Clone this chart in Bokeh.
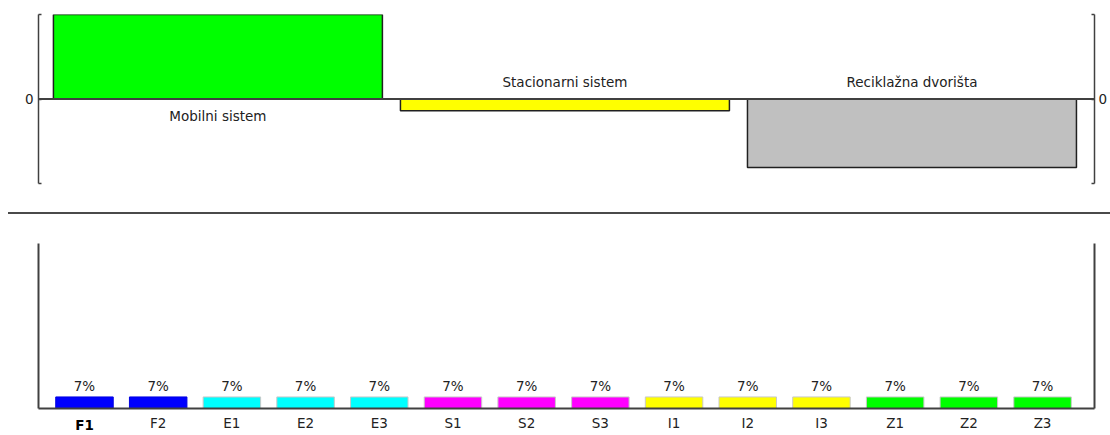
from bokeh.plotting import figure
from bokeh.models import Range1d, FixedTicker, LinearAxis, Span, ColumnDataSource, Div
from bokeh.layouts import column
from bokeh.embed import file_html
from bokeh.resources import INLINE
from bokeh.core.properties import value

# ---- data: top chart (net flows of alternatives) ----
alt_names = ["Mobilni sistem", "Stacionarni sistem", "Reciklažna dvorišta"]
alt_phi = [1.0, -0.14, -0.81]
alt_colors = ["#00FF00", "#FFFF00", "#C0C0C0"]

# ---- data: bottom chart (criteria weights) ----
crit_names = ["F1", "F2", "E1", "E2", "E3", "S1", "S2", "S3",
              "I1", "I2", "I3", "Z1", "Z2", "Z3"]
crit_weights = [0.07, 0.07, 0.07, 0.07, 0.07, 0.07, 0.07,
                0.07, 0.07, 0.07, 0.07, 0.07, 0.07, 0.07]
crit_labels = ["7%", "7%", "7%", "7%", "7%", "7%", "7%",
               "7%", "7%", "7%", "7%", "7%", "7%", "7%"]
crit_colors = ["#0000FF", "#0000FF", "#00FFFF", "#00FFFF", "#00FFFF",
               "#FF00FF", "#FF00FF", "#FF00FF", "#FFFF00", "#FFFF00",
               "#FFFF00", "#00FF00", "#00FF00", "#00FF00"]
crit_border = ["#0000E0", "#0000E0", "#C8C8C8", "#C8C8C8", "#C8C8C8",
               "#C8C8C8", "#C8C8C8", "#C8C8C8", "#C8C8C8", "#C8C8C8",
               "#C8C8C8", "#C8C8C8", "#C8C8C8", "#C8C8C8"]

FONT = "DejaVu Sans"
FSIZE = "13.5px"
TXT = "#222222"
AX = "#404040"
W = 1110

# ================= top chart =================
p1 = figure(width=W, height=209, x_range=Range1d(-0.517, 2.526),
            y_range=Range1d(-1.0, 1.0), toolbar_location=None,
            output_backend="svg", x_axis_location=None, y_axis_location="left",
            min_border_left=38, min_border_right=16, min_border_top=14,
            min_border_bottom=26)
p1.grid.visible = False
p1.outline_line_color = None

def style_axis(ax, standoff):
    ax.ticker = FixedTicker(ticks=[-1.0, 0.0, 1.0])
    ax.major_label_overrides = {-1.0: "", 1.0: "", 0.0: "0"}
    ax.major_tick_in = 3
    ax.major_tick_out = 0
    ax.minor_tick_line_color = None
    ax.major_tick_line_color = AX
    ax.major_tick_line_width = 1.5
    ax.axis_line_color = AX
    ax.axis_line_width = 1.5
    ax.major_label_text_font = FONT
    ax.major_label_text_font_size = FSIZE
    ax.major_label_text_color = TXT
    ax.major_label_standoff = standoff

style_axis(p1.yaxis[0], 5)
rax = LinearAxis()
style_axis(rax, 4)
p1.add_layout(rax, "right")

src1 = ColumnDataSource(dict(
    x=list(range(len(alt_names))), top=alt_phi, color=alt_colors,
    name=alt_names, off=[17 if v >= 0 else -17 for v in alt_phi],
    zero=[0.0] * len(alt_names)))
p1.vbar(x="x", top="top", bottom=0, width=0.948, fill_color="color",
        line_color="#202020", line_width=1.5, source=src1)
p1.add_layout(Span(location=0, dimension="width", line_color=AX, line_width=2))
p1.text(x="x", y="zero", text="name", y_offset="off", source=src1,
        text_align="center", text_baseline="middle",
        text_font=value(FONT), text_font_size=FSIZE, text_color=TXT)

# ================= separator =================
sep = Div(text="", width=W - 8, height=2, margin=(3, 0, 3, 8),
          styles={"background-color": "#4a4a4a"})

# ================= bottom chart =================
p3 = figure(width=W, height=218, x_range=Range1d(-0.624, 13.705),
            y_range=Range1d(0, 1.0), toolbar_location=None,
            output_backend="svg", min_border_left=38, min_border_right=15,
            min_border_top=26, min_border_bottom=26)
p3.grid.visible = False
p3.outline_line_color = None

xa = p3.xaxis[0]
xa.ticker = FixedTicker(ticks=list(range(len(crit_names))))
xa.major_label_overrides = {i: ("" if i == 0 else n) for i, n in enumerate(crit_names)}
xa.major_tick_in = 0
xa.major_tick_out = 0
xa.minor_tick_line_color = None
xa.axis_line_color = AX
xa.axis_line_width = 2
xa.major_label_text_font = FONT
xa.major_label_text_font_size = FSIZE
xa.major_label_text_color = TXT
xa.major_label_standoff = 6

# second axis only carrying the bold label of the selected criterion
xb = LinearAxis(ticker=FixedTicker(ticks=[0]),
                major_label_overrides={0: crit_names[0]},
                axis_line_color=None, major_tick_line_color=None,
                minor_tick_line_color=None, major_tick_in=0, major_tick_out=0,
                major_label_text_font=FONT, major_label_text_font_size=FSIZE,
                major_label_text_font_style="bold",
                major_label_text_color="#000000", major_label_standoff=-17)
p3.add_layout(xb, "below")

ya = p3.yaxis[0]
ya.ticker = FixedTicker(ticks=[])
ya.minor_tick_line_color = None
ya.major_tick_line_color = None
ya.axis_line_color = AX
ya.axis_line_width = 2
ry = LinearAxis(ticker=FixedTicker(ticks=[]), minor_tick_line_color=None,
                major_tick_line_color=None, axis_line_color=AX, axis_line_width=2)
p3.add_layout(ry, "right")

src3 = ColumnDataSource(dict(x=list(range(len(crit_names))), top=crit_weights,
                             color=crit_colors, border=crit_border,
                             lab=crit_labels))
p3.vbar(x="x", top="top", bottom=0, width=0.78, fill_color="color",
        line_color="border", line_width=1, source=src3)
p3.text(x="x", y="top", text="lab", y_offset=-10.5, source=src3,
        text_align="center", text_baseline="middle",
        text_font=value(FONT), text_font_size=FSIZE, text_color=TXT)

layout = column(p1, sep, p3)
open("out.html", "w").write(file_html(layout, INLINE))
